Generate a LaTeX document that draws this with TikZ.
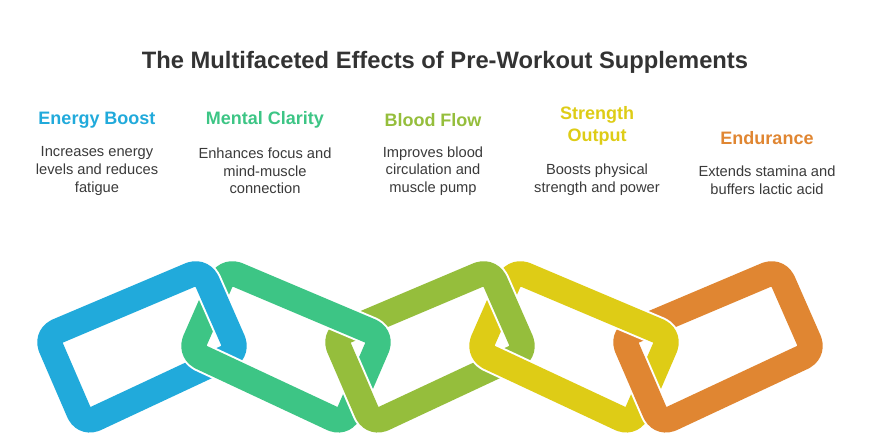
\documentclass[tikz,border=0pt]{standalone}
\usepackage{fontspec}
\setmainfont{Liberation Sans}
\definecolor{cb}{HTML}{21AADB}
\definecolor{cg}{HTML}{3DC585}
\definecolor{co}{HTML}{95BE3C}
\definecolor{cy}{HTML}{DECC16}
\definecolor{cr}{HTML}{E08632}
\definecolor{ct}{HTML}{333333}
\definecolor{cd}{HTML}{3A3A3A}
\begin{document}
\begin{tikzpicture}[x=0.75pt,y=-0.75pt,
  head/.style={font=\bfseries\fontsize{13.5}{16}\selectfont,align=center},
  desc/.style={font=\fontsize{11}{13.2}\selectfont,align=center,text=cd},
  lnk/.style={line width=19pt,rounded corners=9pt,line join=round},
  gap/.style={line width=22pt,rounded corners=9pt,white,line join=round}]
\useasboundingbox (0,0) rectangle (890,446);
\node[font=\bfseries\fontsize{17.8}{20}\selectfont,text=ct] (title) at (445,62) {The Multifaceted Effects of Pre-Workout Supplements};
\node[head,text=cb] (h1) at (97,120) {Energy Boost};
\node[head,text=cg] (h2) at (265,120) {Mental Clarity};
\node[head,text=co] (h3) at (433,120) {Blood Flow};
\node[head,text=cy] (h4) at (597,126) {Strength\\Output};
\node[head,text=cr] (h5) at (767,138) {Endurance};
\node[desc] (d1) at (97,171) {Increases energy\\levels and reduces\\fatigue};
\node[desc] (d2) at (265,171) {Enhances focus and\\mind-muscle\\connection};
\node[desc] (d3) at (433,171) {Improves blood\\circulation and\\muscle pump};
\node[desc] (d4) at (597,180) {Boosts physical\\strength and power};
\node[desc] (d5) at (767,180) {Extends stamina and\\buffers lactic acid};
\newcommand{\pathA}[1]{(46+#1,336)--(202+#1,270)--(238+#1,352)--(84+#1,424)--cycle}
\newcommand{\pathB}[1]{(226+#1,270)--(382+#1,336)--(344+#1,424)--(190+#1,352)--cycle}
\newcommand{\linkA}[2]{\draw[gap] \pathA{#1}; \draw[lnk,#2] \pathA{#1};}
\newcommand{\linkB}[2]{\draw[gap] \pathB{#1}; \draw[lnk,#2] \pathB{#1};}
\newcommand{\fixA}[2]{\begin{scope}\clip (150+#1,240) rectangle (265+#1,333);
  \draw[gap] \pathA{#1}; \draw[lnk,#2] \pathA{#1};\end{scope}}
\newcommand{\fixB}[2]{\begin{scope}\clip (320+#1,240) rectangle (405+#1,352);
  \draw[gap] \pathB{#1}; \draw[lnk,#2] \pathB{#1};\end{scope}}
\linkA{0}{cb}
\linkB{0}{cg}
\fixA{0}{cb}
\linkA{288}{co}
\fixB{0}{cg}
\linkB{288}{cy}
\fixA{288}{co}
\linkA{576}{cr}
\fixB{288}{cy}
\end{tikzpicture}
\end{document}
